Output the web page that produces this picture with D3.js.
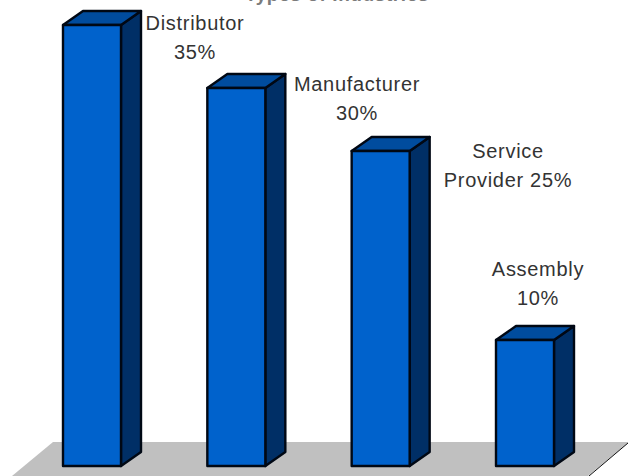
<!DOCTYPE html>
<html><head><meta charset="utf-8">
<script src="https://cdn.jsdelivr.net/npm/d3@7"></script>
<style>html,body{margin:0;padding:0;background:#fff;overflow:hidden}svg{display:block}text{font-family:"Liberation Sans",Arial,sans-serif;fill:#333}</style>
</head><body><svg id="c" width="628" height="476"></svg>
<script>
const categories = ["Distributor","Manufacturer","Service Provider","Assembly"];
const values = [35,30,25,10];
const labelLines = [["Distributor","35%"],["Manufacturer","30%"],["Service","Provider 25%"],["Assembly","10%"]];
const labelCenters = [195,357,508,538];
const labelTops = [30,91,158,276];
const titleText = "Types of Industries";

const svg = d3.select("#c");
const x = d3.scalePoint().domain(categories).range([63,496]);
const barW = 58, dx = 20, dy = 14;
const y = d3.scaleLinear().domain([0,35]).range([466,25]);

svg.append("polygon").attr("points","53,442 628,442 628,443 588,476 12,476").attr("fill","#c0c0c0");
svg.append("line").attr("x1",628).attr("y1",443).attr("x2",589).attr("y2",476).attr("stroke","#111").attr("stroke-width",1);

const g = svg.selectAll("g.bar").data(values).join("g").attr("class","bar").attr("stroke","#000814").attr("stroke-width",2.4).attr("stroke-linejoin","round");
g.append("polygon").attr("fill","#002f66").attr("points",(d,i)=>{const a=x(categories[i])+barW,t=y(d),b=y(0);return [[a,t],[a+dx,t-dy],[a+dx,b-dy],[a,b]].join(" ")});
g.append("polygon").attr("fill","#004c9e").attr("points",(d,i)=>{const l=x(categories[i]),t=y(d);return [[l,t],[l+dx,t-dy],[l+barW+dx,t-dy],[l+barW,t]].join(" ")});
g.append("rect").attr("fill","#0062cc").attr("x",(d,i)=>x(categories[i])).attr("y",d=>y(d)).attr("width",barW).attr("height",d=>y(0)-y(d));

svg.append("text").attr("x",337).attr("y",1).attr("text-anchor","middle").attr("font-size",19).attr("font-weight","bold").attr("letter-spacing",0.6).attr("style","fill:#444;opacity:.7").text(titleText);

labelLines.forEach((ls,i)=>ls.forEach((t,j)=>svg.append("text").attr("x",labelCenters[i]).attr("y",labelTops[i]+j*29).attr("text-anchor","middle").attr("font-size",20).attr("letter-spacing",0.7).text(t)));
</script></body></html>
